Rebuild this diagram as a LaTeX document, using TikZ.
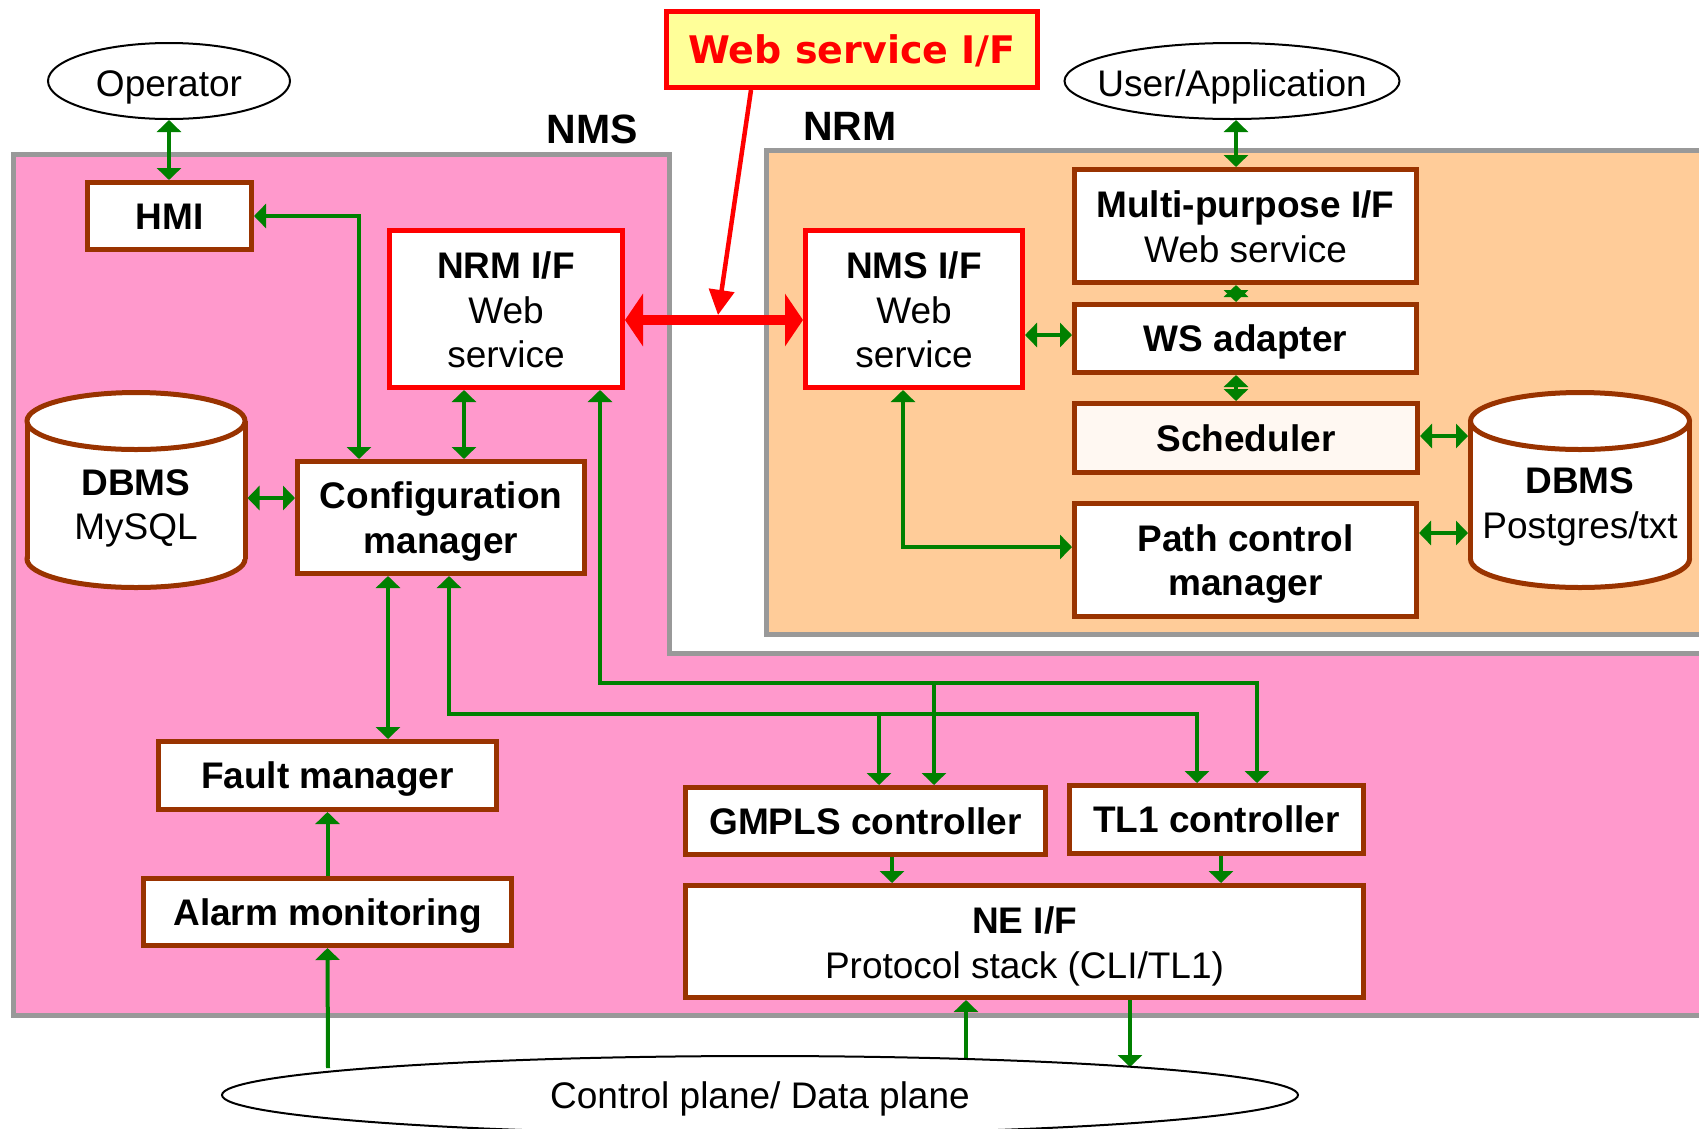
\documentclass[tikz,border=0pt]{standalone}
\usepackage{fontspec}
\setmainfont{Liberation Sans}
\newfontfamily\wsfont{DejaVu Sans}
\usetikzlibrary{arrows.meta,shapes.geometric}
\definecolor{pinkf}{HTML}{FF99CC}
\definecolor{orangef}{HTML}{FFCC99}
\definecolor{frame}{HTML}{999999}
\definecolor{brn}{HTML}{993300}
\definecolor{grn}{HTML}{008000}
\definecolor{yel}{HTML}{FFFF99}
\definecolor{schedf}{HTML}{FFF8F2}
\tikzset{
  box/.style={draw=brn, line width=5pt, fill=white, inner sep=0pt,
    font=\fontsize{37}{44}\selectfont\bfseries, text height=26.5pt, text depth=0pt},
  rbox/.style={box, draw=red},
  lbl/.style={inner sep=0pt, anchor=base, font=\fontsize{37}{44}\selectfont},
  blbl/.style={inner sep=0pt, anchor=base, font=\fontsize{37}{44}\selectfont\bfseries},
  title/.style={inner sep=0pt, anchor=base, font=\fontsize{41}{48}\selectfont\bfseries},
  oval/.style={ellipse, draw=black, line width=2pt, fill=white, inner sep=0pt},
  cyl/.style={draw=brn, line width=5pt},
  holder/.style={inner sep=0pt, outer sep=2.5pt},
  garr/.style={draw=grn, line width=4pt, >={Triangle[width=24pt,length=12pt]}},
  rthick/.style={draw=red, line width=10pt, >={Triangle[width=52pt,length=18pt]}},
  rthin/.style={draw=red, line width=4.5pt, >={Triangle[width=25pt,length=25pt]}}
}
\begin{document}
\begin{tikzpicture}[x=1pt,y=-1pt]
\clip (0,0) rectangle (1699,1128);
\fill[white] (0,0) rectangle (1699,1128);

% NMS area (L-shape)
\fill[pinkf] (13,154) -- (669,154) -- (669,653) -- (1720,653) -- (1720,1015) -- (13,1015) -- cycle;
\draw[frame, line width=5pt] (1720,653) -- (669,653) -- (669,154) -- (13,154) -- (13,1015) -- (1720,1015);
% NRM area
\draw[frame, line width=5pt, fill=orangef] (766,150) rectangle (1725,634);

\node[title] (nmsl) at (592,143) {NMS};
\node[title] (nrml) at (850,140) {NRM};

% top ovals
\node[oval, minimum width=242pt, minimum height=76pt] (op) at (169,81) {};
\node[lbl] (opt) at (169,96) {Operator};
\node[oval, minimum width=335pt, minimum height=76pt] (user) at (1232,81) {};
\node[lbl] (usert) at (1232,96) {User/Application};

% web service I/F
\node[draw=red, line width=5pt, fill=yel, inner sep=0pt, minimum width=371pt, minimum height=76pt,
  font=\wsfont\fontsize{38}{44}\selectfont\bfseries, text=red, text height=27.7pt, text depth=0pt]
  (wsif) at (852,49.5) {Web service I/F};

% NMS boxes
\node[box, minimum width=164pt, minimum height=67pt] (hmi) at (169.5,216) {HMI};
\node[rbox, minimum width=233pt, minimum height=157pt] (nrmif) at (506,309) {};
\node[blbl] (nrmif1) at (506,278) {NRM I/F};
\node[lbl] (nrmif2) at (506,323) {Web};
\node[lbl] (nrmif3) at (506,367) {service};

\node[box, minimum width=287pt, minimum height=112pt] (cfg) at (441,517.5) {};
\node[blbl] (cfg1) at (441,508) {Configuration};
\node[blbl] (cfg2) at (441,553) {manager};

\node[box, minimum width=338pt, minimum height=68pt] (fault) at (327.5,775.5) {Fault manager};
\node[box, minimum width=368pt, minimum height=67pt] (alarm) at (327.5,912) {Alarm monitoring};
\node[box, minimum width=360pt, minimum height=67pt] (gmpls) at (865.5,821) {GMPLS controller};
\node[box, minimum width=294pt, minimum height=68pt] (tl1) at (1216.5,819.5) {TL1 controller};
\node[box, minimum width=678pt, minimum height=112pt] (neif) at (1024.5,941.5) {};
\node[blbl] (neif1) at (1024.5,933) {NE I/F};
\node[lbl] (neif2) at (1024.5,978) {Protocol stack (CLI/TL1)};

% DBMS MySQL cylinder
\node[holder, minimum width=218pt, minimum height=200pt] (dbms1) at (136,490) {};
\draw[cyl, fill=white] (136,559) ellipse [x radius=109pt, y radius=28.5pt];
\fill[white] (29.5,421) rectangle (242.5,559);
\draw[cyl] (27,421) -- (27,559) (245,421) -- (245,559);
\draw[cyl, fill=white] (136,421) ellipse [x radius=109pt, y radius=28.5pt];
\node[blbl] (dbms1a) at (136,495) {DBMS};
\node[lbl] (dbms1b) at (136,539) {MySQL};

% NRM boxes
\node[rbox, minimum width=217pt, minimum height=157pt] (nmsif) at (914,309) {};
\node[blbl] (nmsif1) at (914,278) {NMS I/F};
\node[lbl] (nmsif2) at (914,323) {Web};
\node[lbl] (nmsif3) at (914,367) {service};

\node[box, minimum width=342pt, minimum height=113pt] (multi) at (1245.5,226) {};
\node[blbl] (multi1) at (1245.5,217) {Multi-purpose I/F};
\node[lbl] (multi2) at (1245.5,262) {Web service};

\node[box, minimum width=342pt, minimum height=68pt] (ws) at (1245.5,338.5) {WS adapter};
\node[box, fill=schedf, minimum width=343pt, minimum height=69pt] (sched) at (1246,438) {Scheduler};
\node[box, minimum width=342pt, minimum height=113pt] (path) at (1245.5,560) {};
\node[blbl] (path1) at (1245.5,551) {Path control};
\node[blbl] (path2) at (1245.5,595) {manager};

% DBMS Postgres cylinder
\node[holder, minimum width=219pt, minimum height=200pt] (dbms2) at (1580,490) {};
\draw[cyl, fill=white] (1580,559) ellipse [x radius=109.5pt, y radius=28.5pt];
\fill[white] (1473,421) rectangle (1687,559);
\draw[cyl] (1470.5,421) -- (1470.5,559) (1689.5,421) -- (1689.5,559);
\draw[cyl, fill=white] (1580,421) ellipse [x radius=109.5pt, y radius=28.5pt];
\node[blbl] (dbms2a) at (1580,493) {DBMS};
\node[lbl] (dbms2b) at (1580,538) {Postgres/txt};

% green connectors (NMS)
\draw[garr,<->] (op.south) -- (op.south |- hmi.north);
\draw[garr,<->] (hmi.east) -| ([xshift=-82pt]cfg.north);
\draw[garr,<->] ([xshift=-42pt]nrmif.south) -- ([xshift=23pt]cfg.north);
\draw[garr,<->] ([yshift=-8pt]dbms1.east) -- ([yshift=19.5pt]cfg.west);
\draw[garr,<->] ([xshift=-53pt]cfg.south) -- ([xshift=60.5pt]fault.north);
\draw[garr,->] (alarm.north) -- (fault.south);

\coordinate (busA) at (600,682.5);
\coordinate (brA) at (934,682.5);
\draw[garr,<->] ([xshift=94pt]nrmif.south) -- (busA) -| ([xshift=40.5pt]tl1.north);
\draw[garr,->] (brA) -- ([xshift=68.5pt]gmpls.north);
\coordinate (busB) at (449,713.5);
\coordinate (brB) at (879,713.5);
\draw[garr,<->] ([xshift=8pt]cfg.south) -- (busB) -| ([xshift=-19.5pt]tl1.north);
\draw[garr,->] (brB) -- ([xshift=13.5pt]gmpls.north);

\draw[garr,->] ([xshift=26.5pt]gmpls.south) -- ([xshift=-132.5pt]neif.north);
\draw[garr,->] ([xshift=4.5pt]tl1.south) -- ([xshift=196.5pt]neif.north);

\coordinate (cpAl) at (328,1068);
\coordinate (cpN1) at (966,1062);
\coordinate (cpN2) at (1130,1067);
\draw[garr,->] (cpAl) -- (alarm.south);
\draw[garr,->] (cpN1) -- ([xshift=-58.5pt]neif.south);
\draw[garr,->] ([xshift=105.5pt]neif.south) -- (cpN2);

% control plane oval
\node[oval, minimum width=1076pt, minimum height=78pt] (cp) at (760,1095) {};
\node[lbl] (cpt) at (760,1108) {Control plane/ Data plane};

% green connectors (NRM)
\draw[garr,<->] ([xshift=4pt]user.south) -- ([xshift=-9.5pt]multi.north);
\draw[garr,<->] ([xshift=-9.5pt]multi.south) -- ([xshift=-9.5pt]ws.north);
\draw[garr,<->] ([xshift=-9.5pt]ws.south) -- ([xshift=-10pt]sched.north);
\draw[garr,<->] ([yshift=-26pt]nmsif.east) -- ([yshift=3.5pt]ws.west);
\draw[garr,<->] ([xshift=-11pt]nmsif.south) |- ([yshift=13pt]path.west);
\draw[garr,<->] ([yshift=2pt]sched.east) -- ([yshift=54pt]dbms2.west);
\draw[garr,<->] ([yshift=27pt]path.east) -- ([yshift=-43pt]dbms2.west);

% red connectors
\draw[rthick,<->] ([yshift=-11pt]nrmif.east) -- ([yshift=-11pt]nmsif.west);
\coordinate (redmid) at (718,315);
\draw[rthin,->] ([xshift=-101pt]wsif.south) -- (redmid);
\end{tikzpicture}
\end{document}
